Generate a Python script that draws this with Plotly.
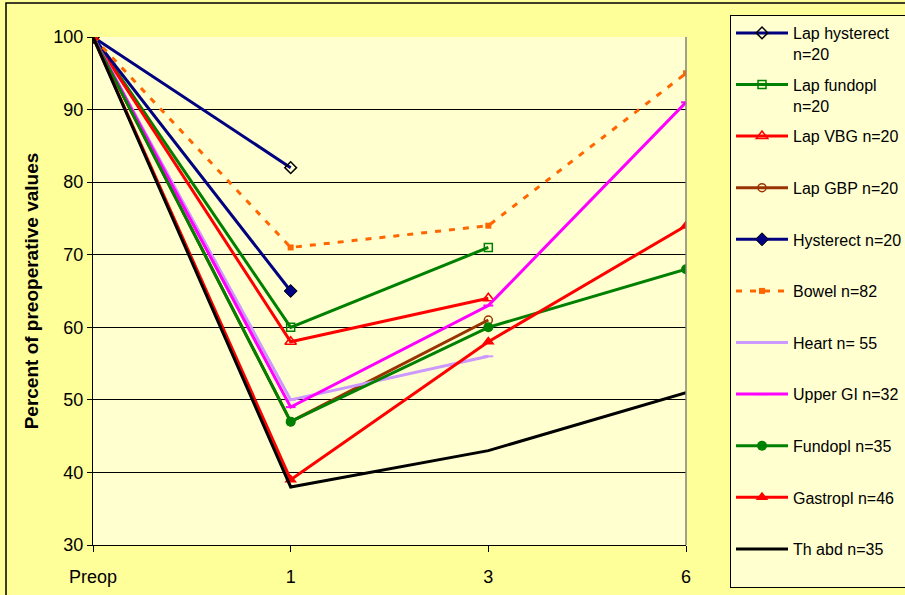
import plotly.graph_objects as go

categories = ["Preop", "1", "3", "6"]

series_names = [
    "Lap hysterect<br>n=20", "Lap fundopl<br>n=20", "Lap VBG n=20<br> ", "Lap GBP n=20<br> ",
    "Hysterect n=20<br> ", "Bowel n=82<br> ", "Heart n= 55<br> ", "Upper GI n=32<br> ",
    "Fundopl n=35<br> ", "Gastropl n=46<br> ", "Th abd n=35<br> ",
]

lap_hysterect = [100, 82, None, None]
lap_fundopl = [100, 60, 71, None]
lap_vbg = [100, 58, 64, None]
lap_gbp = [100, 47, 61, None]
hysterect = [100, 65, None, None]
bowel = [100, 71, 74, 95]
heart = [100, 50, 56, None]
upper_gi = [100, 49, 63, 91]
fundopl = [100, 47, 60, 68]
gastropl = [100, 39, 58, 74]
th_abd = [100, 38, 43, 51]

values = [lap_hysterect, lap_fundopl, lap_vbg, lap_gbp, hysterect, bowel,
          heart, upper_gi, fundopl, gastropl, th_abd]

styles = [
    dict(color="#000080", dash="solid", symbol="diamond-open", mcolor="#000000", msize=9, mline=1.5),
    dict(color="#008000", dash="solid", symbol="square-open", mcolor="#008000", msize=8, mline=1.5),
    dict(color="#FF0000", dash="solid", symbol="triangle-up-open", mcolor="#FF0000", msize=10, mline=1.5),
    dict(color="#993300", dash="solid", symbol="circle-open", mcolor="#993300", msize=8, mline=1.5),
    dict(color="#000080", dash="solid", symbol="diamond", mcolor="#000080", msize=10, mline=1),
    dict(color="#FF6600", dash="6px,8px", symbol="square", mcolor="#FF6600", msize=6, mline=0),
    dict(color="#CC99FF", dash="solid", symbol="line-ew", mcolor="#CC99FF", msize=7, mline=2),
    dict(color="#FF00FF", dash="solid", symbol="line-ew", mcolor="#FF00FF", msize=7, mline=2),
    dict(color="#008000", dash="solid", symbol="circle", mcolor="#008000", msize=10, mline=0),
    dict(color="#FF0000", dash="solid", symbol="triangle-up", mcolor="#FF0000", msize=11, mline=0),
    dict(color="#000000", dash="solid", symbol="line-ew", mcolor="#000000", msize=0, mline=0),
]

fig = go.Figure()
for i, (name, vals, st) in enumerate(zip(series_names, values, styles)):
    mline_color = "#000000" if st["symbol"] == "diamond" else st["mcolor"]
    fig.add_trace(go.Scatter(
        x=categories, y=vals, name=name, mode="lines+markers",
        legendgroup=f"g{i}",
        line=dict(color=st["color"], width=3, dash=st["dash"]),
        marker=dict(symbol=st["symbol"], size=st["msize"], color=st["mcolor"],
                    line=dict(color=mline_color, width=st["mline"])),
        connectgaps=False,
    ))

fig.update_layout(
    width=905, height=595,
    margin=dict(l=93, r=219, t=37, b=50, autoexpand=False),
    paper_bgcolor="#FFFF99",
    plot_bgcolor="#FFFFD0",
    font=dict(family="Liberation Sans, Arial, sans-serif", size=16, color="#000000"),
    showlegend=True,
    legend=dict(
        x=(730 - 93) / 593, xanchor="left",
        y=1 + (37 - 15) / 508, yanchor="top",
        bgcolor="#FFFFD0", bordercolor="#000000", borderwidth=1,
        font=dict(size=16, family="Liberation Sans, Arial, sans-serif"),
        tracegroupgap=7, valign="top", itemwidth=52,
        traceorder="grouped", maxheight=600,
    ),
    xaxis=dict(
        type="category", range=[0, 3], automargin=False,
        showgrid=False, showline=True, linecolor="#000000", linewidth=1,
        ticks="outside", ticklen=6, tickcolor="#000000",
        tickfont=dict(size=18), ticklabelstandoff=9,
        zeroline=False, mirror=False,
    ),
    yaxis=dict(
        range=[30, 100], dtick=10, tick0=30, automargin=False,
        showgrid=True, gridcolor="#000000", gridwidth=1,
        showline=True, linecolor="#000000", linewidth=1,
        ticks="outside", ticklen=5, tickcolor="#000000",
        tickfont=dict(size=18),
        title=dict(text="<b>Percent of preoperative values</b>", font=dict(size=19), standoff=9),
        zeroline=False,
    ),
    shapes=[
        dict(type="rect", xref="paper", yref="paper",
             x0=(6 - 93) / 593, x1=2.0, y0=-0.5, y1=1 + (37 - 3) / 508,
             line=dict(color="#000000", width=1.5), fillcolor="rgba(0,0,0,0)", layer="below"),
        dict(type="line", xref="paper", yref="paper", x0=1, x1=1, y0=0, y1=1,
             line=dict(color="#808080", width=1.5)),
    ],
)

fig.write_html("out.html", config={"displayModeBar": False},
               post_script="document.body.style.margin='0px';")
